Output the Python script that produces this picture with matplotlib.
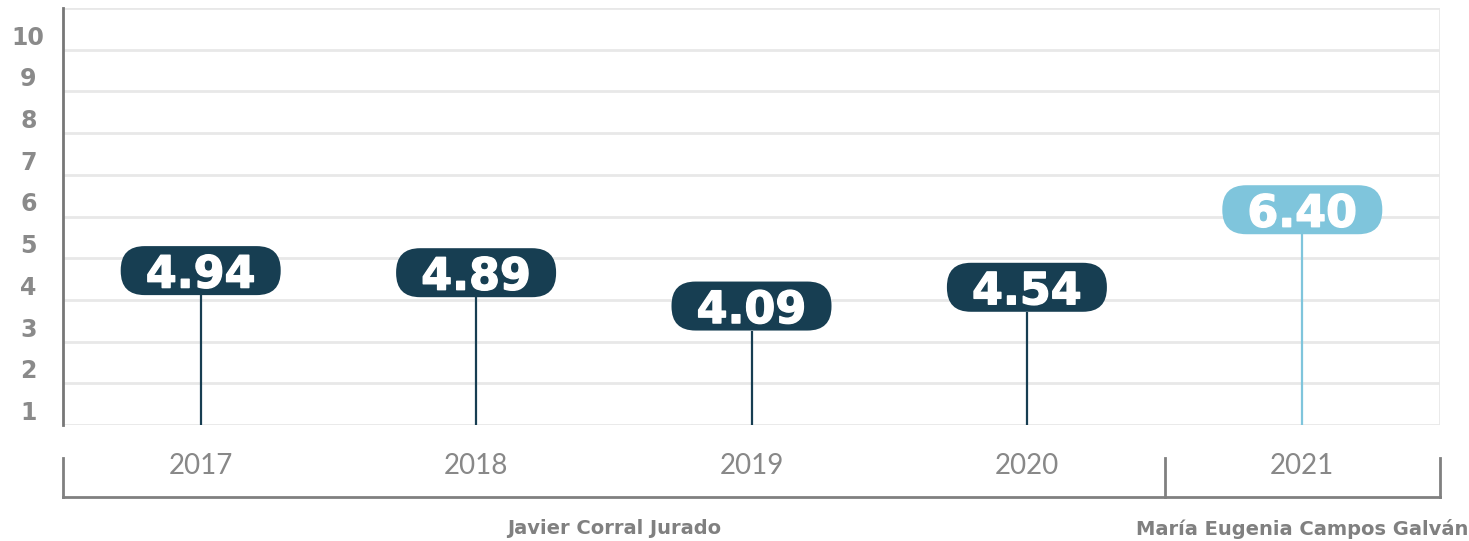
import matplotlib
matplotlib.use("Agg")
import matplotlib.pyplot as plt
import matplotlib.patheffects as pe
from matplotlib.patches import FancyBboxPatch

# data
years = ["2017", "2018", "2019", "2020", "2021"]
values = [4.94, 4.89, 4.09, 4.54, 6.40]
colors = ["#173e52", "#173e52", "#173e52", "#173e52", "#7fc5dc"]
y_labels = [1, 2, 3, 4, 5, 6, 7, 8, 9, 10]
governors = ["Javier Corral Jurado", "María Eugenia Campos Galván"]
governor_centers = [1.5, 4]

W, H = 1469, 541
fig = plt.figure(figsize=(W / 100, H / 100), dpi=100)
ax = fig.add_axes([63 / W, (H - 425) / H, (1440 - 63) / W, 417 / H])

y_off = 0.65
ax.set_xlim(-0.5, 4.5)
ax.set_ylim(y_off, 10 + y_off)

# grid lines (drawn between the tick labels)
for k in range(11):
    ax.axhline(k + y_off, color="#e8e8e8", lw=2, zorder=0)
ax.axvline(4.5, color="#e8e8e8", lw=2, zorder=0)

for s in ["top", "right", "bottom"]:
    ax.spines[s].set_visible(False)
ax.spines["left"].set_color("#777777")
ax.spines["left"].set_linewidth(2)

ax.set_yticks(y_labels)
ax.set_yticklabels([str(v) for v in y_labels], fontsize=17, fontweight="heavy",
                   color="#8a8a8a", ha="center")
ax.tick_params(axis="y", length=0, pad=25)

ax.set_xticks(range(len(years)))
ax.set_xticklabels(years, fontsize=20, fontfamily="Lato", color="#888888")
ax.tick_params(axis="x", length=0, pad=20)

# aspect to keep rounded corners round
fig.canvas.draw()
p0 = ax.transData.transform((0, 0))
p1 = ax.transData.transform((1, 1))
px_x = p1[0] - p0[0]
px_y = p1[1] - p0[1]
aspect = px_x / px_y

box_w = 160 / px_x
box_h = 49 / px_y
radius = 24 / px_x

for i, (v, c) in enumerate(zip(values, colors)):
    bottom = v - box_h
    ax.plot([i, i], [y_off, bottom], color=c, lw=1.6, solid_capstyle="butt", zorder=2)
    box = FancyBboxPatch((i - box_w / 2, bottom), box_w, box_h,
                         boxstyle="round,pad=0,rounding_size=%f" % radius,
                         mutation_aspect=aspect, facecolor=c, edgecolor="none", zorder=3)
    ax.add_patch(box)
    ax.text(i, bottom + box_h / 2, "%.2f" % v, ha="center", va="center_baseline",
            fontsize=32, fontweight="bold", color="white", zorder=4,
            path_effects=[pe.withStroke(linewidth=1.0, foreground="white")])

# bracket under the years
tr = ax.get_xaxis_transform()
yb_top = (425 - 458) / 417
yb_bot = (425 - 497) / 417
ax.plot([-0.5, 4.5], [yb_bot, yb_bot], color="#808080", lw=2, transform=tr, clip_on=False)
for x in [-0.5, 3.5, 4.5]:
    ax.plot([x, x], [yb_top, yb_bot], color="#808080", lw=2, transform=tr, clip_on=False)

for name, xc in zip(governors, governor_centers):
    ax.text(xc, (425 - 529) / 417, name, transform=tr, ha="center", va="center",
            fontsize=14, fontweight="bold", color="#808080")

fig.savefig("out.png", dpi=100)
